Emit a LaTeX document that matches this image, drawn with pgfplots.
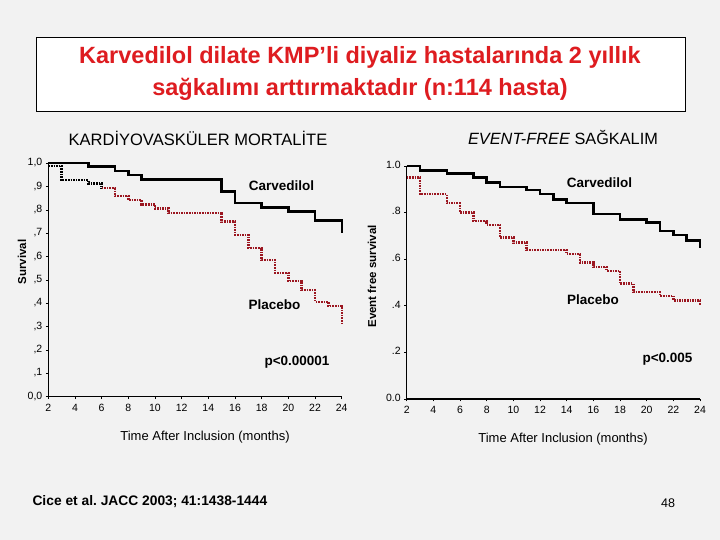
\documentclass[border=0pt]{standalone}
\usepackage{pgfplots}
\pgfplotsset{compat=1.18}
\usepackage{fontspec}
\setmainfont{Liberation Sans}
\definecolor{bg}{RGB}{242,242,242}
\definecolor{titlered}{RGB}{222,28,32}
\definecolor{plred}{RGB}{155,22,32}
\pgfplotsset{
  km/.style={
    scale only axis, anchor=south west, clip=false,
    axis lines=left, axis line style={-, line width=1.2pt},
    xmin=2, xmax=24, ymin=0, ymax=1,
    xtick={2,4,6,8,10,12,14,16,18,20,22,24},
    xticklabels={2,4,6,8,10,12,14,16,18,20,22,24},
    typeset ticklabels with strut,
    tick align=outside, major tick length=2.5pt,
    tick style={line width=0.8pt, black},
    ticklabel style={font=\fontsize{10.5}{12}\selectfont},
    /pgf/number format/assume math mode=true,
  },
  carv/.style={const plot, black, line width=2.4pt, no markers},
  plac/.style={const plot, plred, line width=2.4pt, dash pattern=on 1.6pt off 1pt, no markers},
}
\begin{document}
\begin{tikzpicture}
\fill[bg] (0pt,0pt) rectangle (720pt,540pt);
\useasboundingbox (0pt,0pt) rectangle (720pt,540pt);
\draw[fill=white, line width=1pt] (36pt,428pt) rectangle (685pt,502pt);
\node[titlered, font=\bfseries\fontsize{23.5}{28}\selectfont] at (360pt,483pt) {Karvedilol dilate KMP’li diyaliz hastalarında 2 yıllık};
\node[titlered, font=\bfseries\fontsize{23.5}{28}\selectfont] at (360pt,451pt) {sağkalımı arttırmaktadır (n:114 hasta)};
\node[font=\fontsize{16.5}{20}\selectfont] at (198pt,402pt) {KARDİYOVASKÜLER MORTALİTE};
\node[font=\fontsize{16.3}{20}\selectfont] at (563pt,402pt) {\textit{EVENT-FREE} SAĞKALIM};

% Left: cardiovascular mortality
\begin{axis}[km, at={(48.3pt,143.3pt)}, width=293.4pt, height=233.4pt,
  ytick={0,0.1,0.2,0.3,0.4,0.5,0.6,0.7,0.8,0.9,1},
  yticklabels={{0,0},{,1},{,2},{,3},{,4},{,5},{,6},{,7},{,8},{,9},{1,0}}]
\addplot[carv] coordinates {(2,1.0) (5,0.986) (7,0.967) (8,0.95) (9,0.931) (15,0.879) (16,0.829) (18,0.81) (20,0.793) (22,0.755) (24,0.70)};
\addplot[plac, black] coordinates {(2,0.988) (3,0.928) (5,0.914) (6,0.893)};
\addplot[plac] coordinates {(6,0.893) (7,0.86) (8,0.843) (9,0.824) (10,0.807) (11,0.788) (15,0.75) (16,0.693) (17,0.638) (18,0.586) (19,0.531) (20,0.496) (21,0.457) (22,0.407) (23,0.389) (24,0.314)};
\end{axis}

% Right: event-free survival
\begin{axis}[km, at={(406.7pt,141pt)}, width=293.3pt, height=233pt,
  ytick={0,0.2,0.4,0.6,0.8,1},
  yticklabels={{0.0},{.2},{.4},{.6},{.8},{1.0}}]
\addplot[carv] coordinates {(2,1.0) (3,0.981) (5,0.967) (7,0.95) (8,0.929) (9,0.911) (11,0.896) (12,0.879) (13,0.857) (14,0.84) (16,0.793) (18,0.771) (20,0.757) (21,0.721) (22,0.703) (23,0.681) (24,0.65)};
\addplot[plac] coordinates {(2,0.95) (3,0.879) (5,0.84) (6,0.80) (7,0.764) (8,0.747) (9,0.693) (10,0.671) (11,0.639) (14,0.622) (15,0.585) (16,0.567) (17,0.55) (18,0.495) (19,0.46) (21,0.443) (22,0.423) (24,0.403)};
\end{axis}

% axis labels
\node[font=\bfseries\fontsize{11.5}{13}\selectfont, rotate=90] at (22pt,278pt) {Survival};
\node[font=\bfseries\fontsize{11.5}{13}\selectfont, rotate=90] at (372pt,263.5pt) {Event free survival};
\node[font=\fontsize{13}{15}\selectfont] at (205pt,103pt) {Time After Inclusion (months)};
\node[font=\fontsize{13}{15}\selectfont] at (563pt,101pt) {Time After Inclusion (months)};

% annotations
\node[font=\bfseries\fontsize{13.5}{16}\selectfont] at (281.5pt,354pt) {Carvedilol};
\node[font=\bfseries\fontsize{13.5}{16}\selectfont] at (274.5pt,235pt) {Placebo};
\node[font=\bfseries\fontsize{13.5}{16}\selectfont] at (297pt,178.3pt) {p<0.00001};
\node[font=\bfseries\fontsize{13.5}{16}\selectfont] at (599.5pt,357.7pt) {Carvedilol};
\node[font=\bfseries\fontsize{13.5}{16}\selectfont] at (593pt,240.7pt) {Placebo};
\node[font=\bfseries\fontsize{13.5}{16}\selectfont] at (667.5pt,181pt) {p<0.005};

% footer
\node[anchor=west, font=\bfseries\fontsize{13.8}{16}\selectfont] at (29pt,38pt) {Cice et al.\ JACC 2003; 41:1438-1444};
\node[font=\fontsize{12.5}{15}\selectfont] at (668pt,37pt) {48};
\end{tikzpicture}
\end{document}
